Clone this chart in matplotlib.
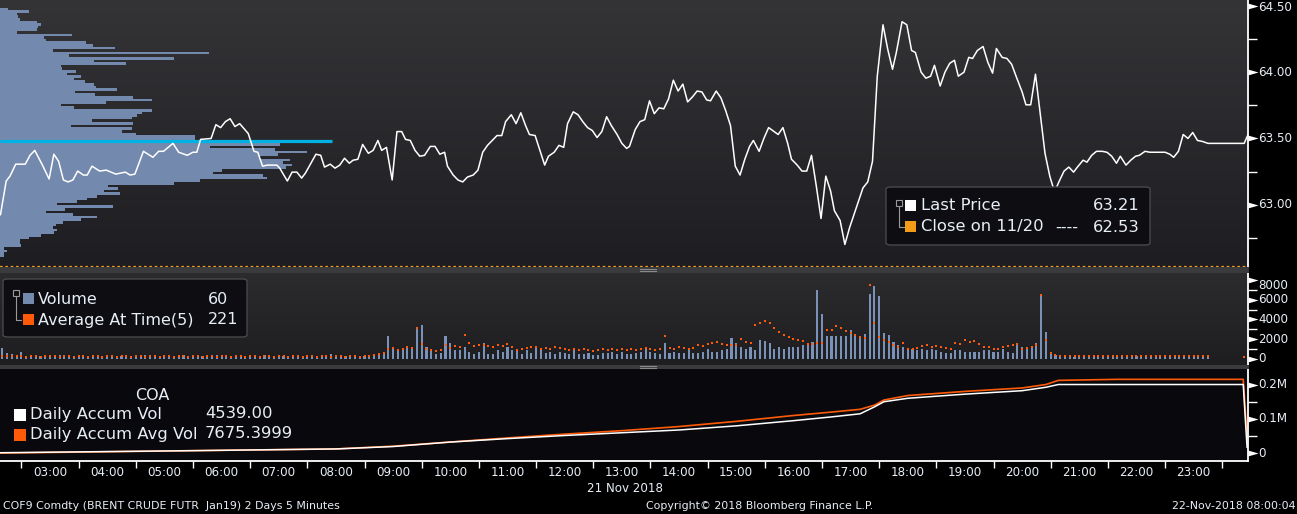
import numpy as np
import matplotlib
matplotlib.use("Agg")
import matplotlib.pyplot as plt
from matplotlib.patches import FancyBboxPatch, Rectangle
from matplotlib.lines import Line2D
from matplotlib.path import Path
from matplotlib.transforms import blended_transform_factory

# ---------------- data ----------------
# price line: minutes after midnight, price
price_t = [128, 134, 138, 144, 154, 159, 164, 172, 179, 184, 189, 194, 199, 204, 209, 215, 219, 224, 232, 239,
           249, 259, 264, 269, 278, 288, 294, 299, 309, 315, 324, 330, 334, 338, 349, 354, 359, 364, 369, 374,
           379, 388, 394, 398, 403, 408, 418, 421, 429, 434, 439, 444, 448, 459, 464, 468, 474, 479, 484, 489,
           494, 498, 503, 508, 514, 519, 524, 528, 533, 539, 544, 549, 553, 558, 563, 568, 573, 579, 584, 589,
           594, 597, 603, 608, 613, 618, 624, 629, 634, 639, 649, 654, 658, 664, 669, 674, 679, 683, 689, 694,
           699, 703, 709, 714, 719, 723, 729, 734, 739, 744, 749, 754, 759, 764, 769, 775, 780, 785, 788, 794,
           799, 804, 809, 814, 819, 824, 829, 834, 839, 844, 849, 854, 859, 864, 869, 873, 879, 884, 889, 894,
           899, 904, 909, 914, 918, 924, 929, 934, 944, 949, 954, 958, 964, 969, 974, 979, 984, 989, 994, 999,
           1003, 1009, 1014, 1019, 1026, 1033, 1038, 1043, 1048, 1054, 1059, 1064, 1068, 1074, 1079, 1084, 1088,
           1094, 1099, 1104, 1108, 1114, 1119, 1124, 1129, 1133, 1139, 1144, 1148, 1153, 1159, 1164, 1169, 1173,
           1179, 1184, 1189, 1194, 1200, 1204, 1209, 1214, 1218, 1224, 1229, 1234, 1239, 1244, 1249, 1254, 1258,
           1264, 1268, 1273, 1278, 1284, 1289, 1294, 1299, 1303, 1309, 1314, 1319, 1323, 1329, 1334, 1350, 1355,
           1359, 1364, 1369, 1374, 1379, 1384, 1389, 1395, 1433, 1438]
price_v = [62.925, 63.179, 63.216, 63.306, 63.306, 63.373, 63.410, 63.299, 63.194, 63.381, 63.328, 63.187, 63.172,
           63.187, 63.254, 63.224, 63.224, 63.291, 63.254, 63.261, 63.231, 63.246, 63.224, 63.231, 63.403, 63.358,
           63.403, 63.403, 63.463, 63.396, 63.373, 63.396, 63.396, 63.493, 63.500, 63.604, 63.582, 63.627, 63.649,
           63.590, 63.612, 63.537, 63.403, 63.396, 63.291, 63.299, 63.299, 63.276, 63.179, 63.246, 63.246, 63.201,
           63.239, 63.381, 63.373, 63.284, 63.306, 63.276, 63.299, 63.351, 63.313, 63.336, 63.343, 63.455, 63.388,
           63.410, 63.485, 63.410, 63.433, 63.187, 63.552, 63.552, 63.493, 63.485, 63.410, 63.366, 63.373, 63.440,
           63.440, 63.381, 63.396, 63.291, 63.224, 63.187, 63.172, 63.209, 63.224, 63.261, 63.396, 63.448, 63.522,
           63.522, 63.627, 63.679, 63.612, 63.694, 63.597, 63.530, 63.522, 63.410, 63.299, 63.366, 63.396, 63.448,
           63.433, 63.612, 63.701, 63.679, 63.627, 63.582, 63.560, 63.507, 63.552, 63.664, 63.597, 63.530, 63.463,
           63.425, 63.440, 63.567, 63.627, 63.642, 63.784, 63.687, 63.731, 63.724, 63.799, 63.940, 63.858, 63.910,
           63.776, 63.813, 63.858, 63.851, 63.791, 63.784, 63.858, 63.806, 63.709, 63.597, 63.291, 63.224, 63.343,
           63.440, 63.485, 63.403, 63.500, 63.582, 63.530, 63.582, 63.463, 63.343, 63.299, 63.254, 63.254, 63.373,
           63.142, 62.896, 63.216, 63.104, 62.955, 62.881, 62.700, 62.828, 62.978, 63.127, 63.172, 63.328, 63.970,
           64.358, 64.172, 64.022, 64.149, 64.381, 64.358, 64.164, 64.149, 64.000, 63.955, 63.970, 64.052, 63.896,
           64.000, 64.067, 64.090, 63.970, 64.000, 64.112, 64.104, 64.164, 64.194, 64.075, 63.993, 64.179, 64.112,
           64.104, 64.060, 63.963, 63.851, 63.754, 63.754, 63.985, 63.746, 63.388, 63.216, 63.097, 63.179, 63.254,
           63.284, 63.246, 63.284, 63.336, 63.321, 63.373, 63.403, 63.403, 63.396, 63.366, 63.313, 63.366, 63.299,
           63.336, 63.366, 63.373, 63.403, 63.396, 63.396, 63.381, 63.358, 63.403, 63.530, 63.500, 63.545, 63.485,
           63.478, 63.463, 63.463, 63.545]
close_prev = 62.53
poc_price = 63.481

# volume-at-price profile (top row first), covering 64.478 .. 62.612
profile_top, profile_bottom = 64.478, 62.612
profile_len = [8, 29, 17, 18, 20, 37, 41, 38, 37, 17, 72, 44, 46, 86, 93, 115, 53, 209, 69, 174,
               94, 126, 61, 62, 76, 67, 81, 74, 85, 94, 96, 117, 75, 95, 133, 152, 106, 61, 74, 152,
               142, 137, 132, 92, 133, 71, 132, 122, 136, 195, 195, 240, 280, 210, 275, 307, 278, 260, 290, 283,
               292, 286, 222, 213, 263, 267, 200, 174, 108, 118, 104, 120, 97, 87, 77, 57, 113, 65, 46, 73,
               97, 81, 63, 56, 53, 57, 54, 41, 29, 20, 20, 21, 4, 7, 4, 4]

# 5-minute volume bars starting 02:10
vol_start = 130
volume = [1100, 620, 520, 345, 690, 250, 200, 180, 300, 220, 260, 180, 350, 200, 220, 180, 250, 300, 200, 180,
          260, 220, 300, 200, 180, 220, 350, 250, 200, 180, 400, 220, 250, 300, 200, 220, 180, 250, 350, 200,
          220, 300, 250, 180, 200, 400, 300, 220, 250, 350, 200, 220, 180, 300, 250, 400, 200, 220, 180, 250,
          300, 220, 200, 180, 250, 220, 200, 300, 250, 450, 220, 180, 250, 200, 300, 220, 250, 200, 300, 500,
          600, 2350, 1000, 850, 900, 1200, 1200, 3170, 3450, 1200, 850, 520, 600, 2350, 1550, 850, 850, 1200, 700, 520,
          700, 1550, 520, 520, 850, 700, 1200, 850, 850, 520, 850, 600, 1200, 850, 600, 700, 520, 700, 600, 520,
          850, 520, 520, 600, 350, 400, 600, 600, 700, 520, 700, 520, 520, 600, 700, 1000, 700, 600, 520, 1600,
          600, 700, 600, 600, 850, 600, 600, 700, 1000, 700, 700, 850, 1000, 2070, 1550, 1200, 1000, 1200, 850, 1900,
          1800, 1550, 1000, 1200, 1000, 1200, 1200, 1200, 1400, 1400, 1700, 7000, 4550, 2350, 2300, 2350, 2350, 2350, 2900, 2400,
          2350, 2500, 6620, 7400, 6400, 2600, 2400, 1700, 1400, 1200, 1000, 1000, 850, 1000, 850, 1000, 850, 700, 600, 600,
          850, 850, 700, 700, 700, 700, 850, 850, 700, 700, 1000, 700, 600, 1400, 1200, 1000, 1200, 1550, 6550, 2760,
          700, 350, 200, 250, 180, 200, 250, 300, 200, 180, 250, 220, 300, 200, 180, 250, 220, 200, 300, 180,
          250, 200, 180, 220, 200, 250, 180, 200, 220, 200, 150, 180, 150, 120]
avg_at_time = [300, 250, 250, 220, 250, 200, 250, 220, 200, 250, 220, 250, 200, 220, 250, 200, 220, 250, 200, 220,
               250, 200, 220, 250, 200, 220, 250, 200, 220, 250, 200, 220, 250, 200, 220, 250, 200, 220, 250, 200,
               220, 250, 200, 220, 250, 200, 220, 250, 200, 220, 250, 200, 220, 250, 200, 220, 250, 200, 220, 250,
               200, 220, 250, 200, 220, 250, 200, 220, 250, 200, 220, 250, 200, 220, 250, 200, 220, 300, 350, 500,
               550, 1000, 1100, 900, 1000, 1200, 1100, 3100, 1500, 1000, 900, 800, 900, 1400, 1100, 1300, 1200, 2400, 1600, 1300,
               1400, 1400, 1300, 1200, 1400, 1300, 1500, 1200, 900, 1000, 1100, 1200, 1200, 1000, 1100, 1000, 1200, 1100, 1000, 900,
               1000, 900, 1000, 900, 800, 900, 1000, 900, 1000, 900, 1000, 900, 1000, 900, 1000, 1100, 1000, 900, 1000, 2350,
               1100, 1000, 1200, 1100, 1000, 1100, 1400, 1300, 1500, 1600, 1700, 1500, 1400, 1400, 1400, 2000, 1700, 1600, 3450, 3600,
               3800, 3600, 3100, 2700, 2400, 2200, 2000, 1900, 1800, 1500, 1500, 1600, 1600, 2900, 2900, 3300, 3100, 2800, 2600, 2400,
               2200, 2100, 7500, 3600, 2200, 1900, 1700, 1400, 1200, 1600, 1000, 1000, 1100, 1300, 1400, 1200, 1300, 1200, 1100, 1000,
               1600, 1500, 1900, 1700, 1800, 1500, 1200, 1200, 1000, 1000, 1200, 1300, 1400, 1500, 1000, 1100, 1200, 1400, 6550, 1900,
               600, 400, 300, 280, 250, 300, 280, 250, 300, 250, 280, 250, 300, 250, 280, 250, 300, 250, 280, 250,
               280, 250, 300, 250, 280, 250, 280, 250, 260, 240, 230, 220, 230, 221]
avg_last_t, avg_last_v = 1433, 200

# daily accumulated volume (millions)
acc_t = [128, 330, 480, 540, 600, 660, 720, 780, 840, 900, 960, 1000, 1030, 1045, 1055, 1080, 1140, 1200, 1225,
         1238, 1300, 1432, 1436]
acc_vol = [0.002, 0.008, 0.013, 0.020, 0.033, 0.043, 0.052, 0.060, 0.068, 0.080, 0.095, 0.106, 0.115, 0.135, 0.150,
           0.160, 0.172, 0.182, 0.192, 0.200, 0.200, 0.200, 0.018]
acc_avg = [0.001, 0.008, 0.013, 0.021, 0.033, 0.045, 0.056, 0.066, 0.078, 0.093, 0.110, 0.120, 0.128, 0.140, 0.155,
           0.168, 0.180, 0.190, 0.200, 0.212, 0.215, 0.215, 0.047]

price_ticks = [63.00, 63.50, 64.00, 64.50]
vol_ticks = [0, 2000, 4000, 6000, 8000]
acc_ticks = [0, 0.1, 0.2]
acc_labels = ["0", "0.1M", "0.2M"]
hours = list(range(3, 24))

# ---------------- layout ----------------
W, H = 1297, 514
fig = plt.figure(figsize=(W / 100, H / 100), dpi=100, facecolor="black")
plt.rcParams["font.family"] = ["DejaVu Sans"]


def fx(px):
    return px / W


def fy(py):
    return 1 - py / H


def add_ax(x0, y0, x1, y1, **kw):
    return fig.add_axes([fx(x0), fy(y1), fx(x1) - fx(x0), fy(y0) - fy(y1)], **kw)


XMIN, XMAX = 127.5, 1437.0
TXT = "#e8eef6"
ORANGE = "#f39a16"
RED = "#ff5a0a"
STEEL = "#7389ad"

TRI = Path([(0, -1), (0, 1), (3.5, 0), (0, -1)], [Path.MOVETO, Path.LINETO, Path.LINETO, Path.CLOSEPOLY])
DASH = Path([(0, 0), (1, 0)], [Path.MOVETO, Path.LINETO])


def gradient(ax, top, bottom):
    c0 = np.array(matplotlib.colors.to_rgb(top))
    c1 = np.array(matplotlib.colors.to_rgb(bottom))
    g = np.linspace(0, 1, 256)[:, None, None]
    img = c0 * (1 - g) + c1 * g
    ax.imshow(img, extent=[0, 1, 0, 1], transform=ax.transAxes, aspect="auto", zorder=0,
              interpolation="bilinear")


def strip(ax):
    for s in ax.spines.values():
        s.set_visible(False)
    ax.set_xticks([])
    ax.set_yticks([])


def right_axis(ax, ticks, labels, minor, label_offsets=None):
    tr = blended_transform_factory(ax.transAxes, ax.transData)
    ax.plot([1.0, 1.0], [0, 1], transform=ax.transAxes, color="white", lw=1.3, clip_on=False, zorder=10)
    for i, (t, lab) in enumerate(zip(ticks, labels)):
        ax.plot([1.0], [t], marker=TRI, ms=14.5, color="white", transform=tr, clip_on=False, zorder=10,
                markeredgewidth=0)
        off = 0 if label_offsets is None else label_offsets[i]
        ax.annotate(lab, xy=(1.0, t), xycoords=tr, xytext=(10, -off), textcoords="offset pixels",
                    color=TXT, fontsize=8.6, va="center", ha="left", annotation_clip=False)
    for t in minor:
        ax.plot([1.0], [t], transform=tr, color="white", clip_on=False, marker=DASH, ms=13,
                markeredgewidth=1.0, markeredgecolor="white", fillstyle="none", zorder=10)


# ---- top panel ----
ax_prof = add_ax(0, 0, 1248, 267)
gradient(ax_prof, "#343437", "#1e1e22")
strip(ax_prof)
nrow = len(profile_len)
step = (profile_top - profile_bottom) / (nrow - 1)
prof_prices = [profile_top - i * step for i in range(nrow)]
ax_prof.barh(prof_prices, profile_len, height=step * 1.0, left=0, color=STEEL, zorder=2, linewidth=0)
ax_prof.plot([0, 332], [poc_price, poc_price], color="#00b2e3", lw=2.3, zorder=3, solid_capstyle="butt")
ax_prof.set_xlim(0, 1248)
ax_prof.set_ylim(62.53, 64.545)

ax_p = add_ax(0, 0, 1248, 267)
ax_p.set_facecolor("none")
strip(ax_p)
ax_p.plot(price_t, price_v, color="white", lw=1.1, zorder=5)
ax_p.plot([XMIN, XMAX], [close_prev, close_prev], color=ORANGE, lw=1.6, ls=(0, (1.2, 1.2)),
          clip_on=False, zorder=6)
ax_p.set_xlim(XMIN, XMAX)
ax_p.set_ylim(62.53, 64.545)
right_axis(ax_p, price_ticks, ["%.2f" % t for t in price_ticks], [62.75, 63.25, 63.75, 64.25],
           label_offsets=[0, 0, 0, 2])

# ---- volume panel ----
ax_v = add_ax(0, 273, 1248, 365)
gradient(ax_v, "#2c2c2f", "#1e1e21")
strip(ax_v)
vt = [vol_start + 5 * i for i in range(len(volume))]
ax_v.bar(vt, volume, width=2.2, color="#7b92b8", zorder=2, linewidth=0)
at = [vol_start + 5 * i for i in range(len(avg_at_time))] + [avg_last_t]
ax_v.scatter(at, avg_at_time + [avg_last_v], marker="s", s=3.5, color=RED, zorder=3, linewidths=0)
ax_v.set_xlim(XMIN, XMAX)
ax_v.set_ylim(-650, 8750)
right_axis(ax_v, vol_ticks, [str(t) for t in vol_ticks], [1000, 3000, 5000, 7000],
           label_offsets=[0, 0, 0, 0, 5])

# ---- accumulation panel ----
ax_a = add_ax(0, 369, 1248, 461)
ax_a.set_facecolor("#09090d")
for s in ["top", "left", "right"]:
    ax_a.spines[s].set_visible(False)
ax_a.spines["bottom"].set_color("white")
ax_a.spines["bottom"].set_linewidth(1.3)
ax_a.set_yticks([])
ax_a.plot(acc_t, acc_avg, color=RED, lw=1.2, zorder=3)
ax_a.plot(acc_t, acc_vol, color="white", lw=1.1, zorder=4)
ax_a.set_xlim(XMIN, XMAX)
ax_a.set_ylim(-0.022, 0.245)
right_axis(ax_a, acc_ticks, acc_labels, [0.05, 0.15])
ax_a.set_xticks([h * 60 - 30 for h in hours] + [23 * 60 + 30])
ax_a.set_xticklabels([])
ax_a.tick_params(axis="x", direction="out", length=5, width=1, color="white")
trx = blended_transform_factory(ax_a.transData, fig.transFigure)
for h in hours:
    fig.text(h * 60, fy(472), "%02d:00" % h, transform=trx, color=TXT, fontsize=8.6, ha="center", va="center")

# separators
for y0, y1 in [(267, 273), (365, 369)]:
    fig.patches.append(Rectangle((0, fy(y1)), fx(1249), fy(y0) - fy(y1), transform=fig.transFigure,
                                 facecolor="#3b3b3d", edgecolor="none", zorder=1))
    ym = (y0 + y1) / 2
    for dy in (-1, 1):
        fig.lines.append(Line2D([fx(640), fx(656)], [fy(ym + dy), fy(ym + dy)], transform=fig.transFigure,
                                color="#8a8a8a", lw=0.8))


# ---------------- legends ----------------
def box(x0, y0, x1, y1):
    fig.patches.append(FancyBboxPatch((fx(x0), fy(y1)), fx(x1) - fx(x0), fy(y0) - fy(y1),
                                      boxstyle="round,pad=0,rounding_size=0.004", transform=fig.transFigure,
                                      facecolor="#0e0e12", edgecolor="#48484c", lw=1, zorder=20))


def square(x0, y0, size, color):
    fig.patches.append(Rectangle((fx(x0), fy(y0 + size)), fx(size), fy(0) - fy(size), transform=fig.transFigure,
                                 facecolor=color, edgecolor="none", zorder=21))


def tree(x, y0, y1):
    fig.patches.append(Rectangle((fx(x - 3), fy(y0 + 3)), fx(6), fy(0) - fy(6), transform=fig.transFigure,
                                 facecolor="none", edgecolor="#9a9a9a", lw=0.8, zorder=21))
    fig.lines.append(Line2D([fx(x), fx(x), fx(x + 5)], [fy(y0 + 3), fy(y1), fy(y1)], transform=fig.transFigure,
                            color="#9a9a9a", lw=0.8, zorder=21))


def t(x, y, s, ha="left", size=11.8, color=TXT):
    fig.text(fx(x), fy(y), s, ha=ha, va="center", fontsize=size, color=color, zorder=22)


box(886, 187, 1150, 245)
tree(899, 203, 227)
square(905, 200, 11, "white")
square(905, 221, 11, ORANGE)
t(921, 206, "Last Price")
t(1140, 206, "63.21", ha="right")
t(921, 227, "Close on 11/20")
t(1055, 227, "----")
t(1140, 227, "62.53", ha="right")

box(3, 279, 247, 337)
tree(16, 293, 320)
square(23, 293, 11, STEEL)
square(23, 314, 11, RED)
t(38, 299, "Volume", size=11.5)
t(228, 299, "60", ha="right", size=11.5)
t(38, 320, "Average At Time(5)", size=11.5)
t(238, 320, "221", ha="right", size=11.5)

t(152, 395, "COA", ha="center", size=11.5)
square(14, 409, 12, "white")
square(14, 429, 12, RED)
t(30, 414, "Daily Accum Vol", size=11.8)
t(205, 414, "4539.00", size=11.8)
t(30, 434, "Daily Accum Avg Vol", size=11.8)
t(205, 434, "7675.3999", size=11.8)

t(625, 488, "21 Nov 2018", ha="center", size=8.6)
t(3, 506, "COF9 Comdty (BRENT CRUDE FUTR  Jan19) 2 Days 5 Minutes", size=7.9)
t(760, 506, "Copyright\u00a9 2018 Bloomberg Finance L.P.", ha="center", size=7.9)
t(1295, 506, "22-Nov-2018 08:00:04", ha="right", size=7.9)

fig.savefig("out.png", dpi=100, facecolor="black")
